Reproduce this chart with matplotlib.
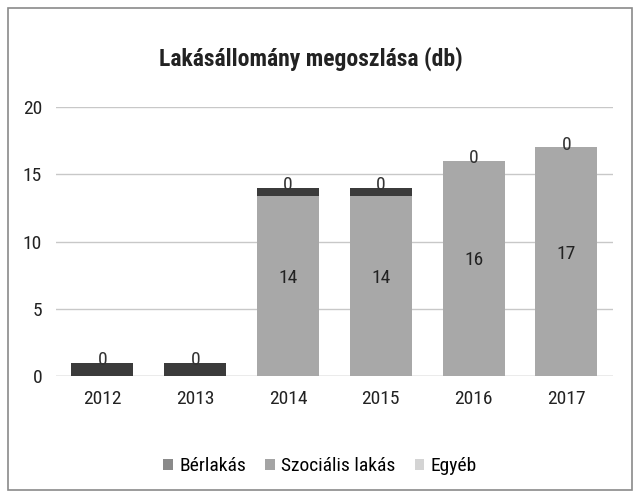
import matplotlib.pyplot as plt
from matplotlib.patches import Rectangle

plt.rcParams['font.family'] = ['Liberation Sans Narrow', 'Roboto Condensed', 'DejaVu Sans']
plt.rcParams['font.stretch'] = 'condensed'

years = ['2012', '2013', '2014', '2015', '2016', '2017']
szocialis = [0, 0, 13.4, 13.4, 16, 17]
szocialis_labels = ['', '', '14', '14', '16', '17']
berlakas = [1, 1, 0.6, 0.6, 0, 0]
berlakas_labels = ['0', '0', '0', '0', '0', '0']
egyeb = [0, 0, 0, 0, 0, 0]

c_ber = '#3b3b3b'
c_szoc = '#a8a8a8'
c_egy = '#d4d4d4'

fig = plt.figure(figsize=(6.4, 4.99), dpi=100)
fig.patches.append(Rectangle((0.012, 0.018), 0.976, 0.966, transform=fig.transFigure,
                             fill=False, edgecolor='#8a8a8a', linewidth=1.2))

ax = fig.add_axes([0.0875, 0.2465, 0.870, 0.539])
x = list(range(len(years)))
w = 0.67

ax.bar(x, szocialis, w, color=c_szoc, zorder=2)
ax.bar(x, berlakas, w, bottom=szocialis, color=c_ber, zorder=2)
tops = [s + b for s, b in zip(szocialis, berlakas)]
ax.bar(x, egyeb, w, bottom=tops, color=c_egy, zorder=2)

for i in x:
    if szocialis_labels[i]:
        ax.text(i, szocialis[i] / 2 + 0.6, szocialis_labels[i], ha='center', va='center',
                fontsize=14, color='#222222')
    ax.text(i, tops[i] + 0.2, berlakas_labels[i], ha='center', va='center',
            fontsize=14, color='#333333')

ax.set_xlim(-0.5, 5.5)
ax.set_ylim(0, 20)
ax.set_yticks([0, 5, 10, 15, 20])
ax.set_xticks(x)
ax.set_xticklabels(years)
ax.tick_params(axis='both', length=0, labelsize=14, colors='#222222', pad=10)
ax.yaxis.grid(True, color='#c8c8c8', linewidth=1, zorder=0)
for s in ax.spines.values():
    s.set_visible(False)
ax.axhline(0, color='#c8c8c8', linewidth=1, zorder=1)

fig.text(0.485, 0.883, 'Lakásállomány megoszlása (db)', ha='center', va='center',
         fontsize=17, fontweight='bold', color='#222222')

handles = [Rectangle((0, 0), 1, 1, facecolor=c, edgecolor='none')
           for c in ('#8a8a8a', '#a4a4a4', '#d4d4d4')]
fig.legend(handles, ['Bérlakás', 'Szociális lakás', 'Egyéb'], loc='center',
           bbox_to_anchor=(0.5, 0.066), ncol=3, frameon=False, fontsize=14,
           handlelength=0.5, handleheight=0.5, handletextpad=0.3, columnspacing=1.0)

fig.savefig('out.png', dpi=100)
